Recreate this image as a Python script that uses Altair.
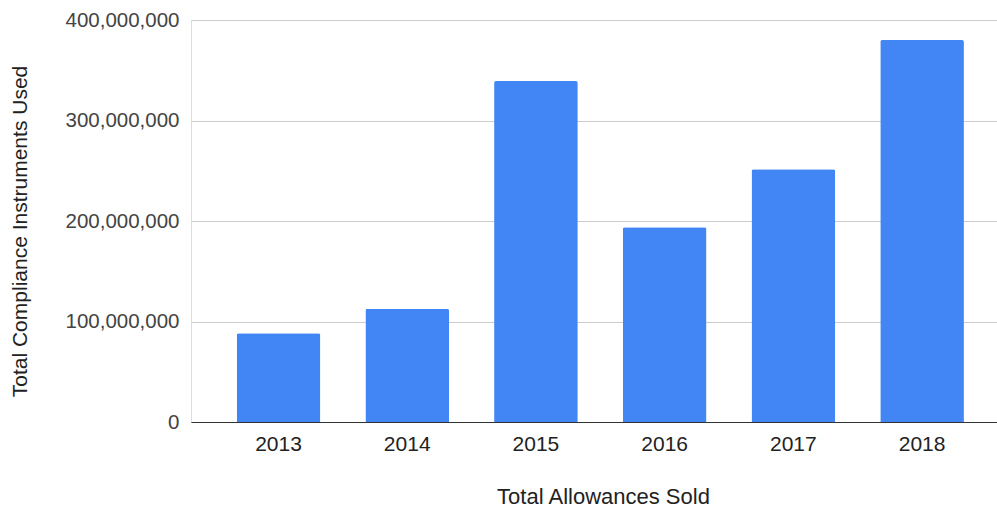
import altair as alt
import pandas as pd

years = ["2013", "2014", "2015", "2016", "2017", "2018"]
values = [88300000, 112700000, 339300000, 193700000, 251400000, 380100000]

df = pd.DataFrame({"year": years, "value": values})

FONT = "Liberation Sans"

chart = alt.Chart(df).mark_bar(
    color="#4285F4", cornerRadiusTopLeft=2, cornerRadiusTopRight=2
).encode(
    x=alt.X(
        "year:N",
        sort=years,
        scale=alt.Scale(paddingInner=0.35, paddingOuter=0.306, align=0.58),
        axis=alt.Axis(
            title="Total Allowances Sold",
            labelAngle=0,
            labelFont=FONT,
            labelFontSize=21,
            labelColor="#222222",
            labelPadding=11,
            ticks=False,
            domainColor="#333333",
            domainWidth=1,
            titleFont=FONT,
            titleFontSize=22,
            titleFontWeight="normal",
            titleColor="#222222",
            titleX=412,
            titleY=74,
            titleBaseline="middle",
        ),
    ),
    y=alt.Y(
        "value:Q",
        scale=alt.Scale(domain=[0, 400000000], nice=False),
        axis=alt.Axis(
            title="Total Compliance Instruments Used",
            values=[0, 100000000, 200000000, 300000000, 400000000],
            format=",d",
            labelFont=FONT,
            labelFontSize=20.5,
            labelColor="#444444",
            labelPadding=12,
            ticks=False,
            domain=False,
            gridColor="#cccccc",
            gridWidth=1,
            titleFont=FONT,
            titleFontSize=21,
            titleFontWeight="normal",
            titleColor="#222222",
            titleAngle=-90,
            titleX=-171,
            titleY=211,
            titleAlign="center",
            titleBaseline="middle",
        ),
    ),
).properties(
    width=806,
    height=402,
    autosize=alt.AutoSizeParams(type="none"),
    padding={"left": 191, "top": 20, "right": 0, "bottom": 86},
).configure_view(stroke=None).configure(background="white")

chart.save("out.html", embed_options={"renderer": "svg", "actions": False})
